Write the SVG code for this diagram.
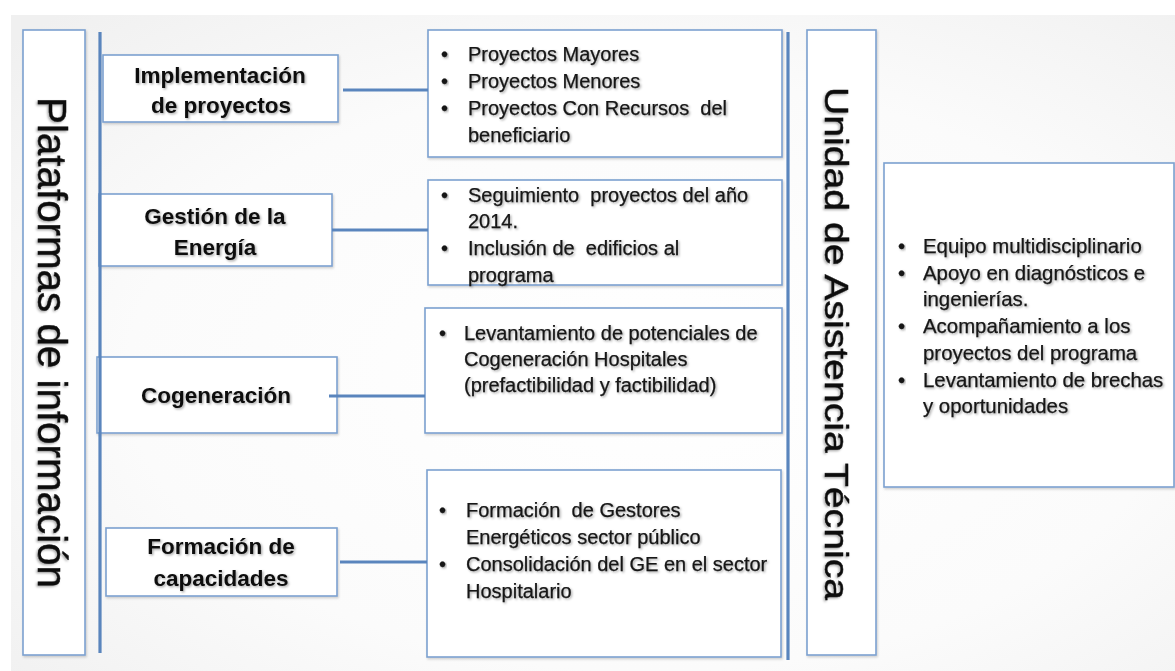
<svg xmlns="http://www.w3.org/2000/svg" width="1175" height="671" viewBox="0 0 1175 671">
<defs>
<radialGradient id="bg" cx="0.55" cy="0.55" r="0.75">
<stop offset="0" stop-color="#ffffff"/>
<stop offset="0.6" stop-color="#fbfbfb"/>
<stop offset="1" stop-color="#f0f0f0"/>
</radialGradient>
<filter id="ts" x="-5%" y="-20%" width="115%" height="160%">
<feDropShadow dx="1.3" dy="1.3" stdDeviation="0.9" flood-color="#000" flood-opacity="0.35"/>
</filter>
<filter id="bs" x="-5%" y="-5%" width="115%" height="115%">
<feDropShadow dx="1" dy="1.5" stdDeviation="1" flood-color="#000" flood-opacity="0.18"/>
</filter>
</defs>
<style>
.box{fill:#ffffff;stroke:#7ca1d0;stroke-width:1.6;filter:url(#bs)}
.line{stroke:#5a85bd;stroke-width:3.2;fill:none;stroke-linecap:butt}
.title{font-family:"Liberation Sans",Arial,sans-serif;fill:#111;stroke:#111;stroke-width:0.4;filter:url(#ts)}
.lbl{font-family:"Liberation Sans",Arial,sans-serif;font-weight:bold;font-size:22.5px;fill:#111;text-anchor:middle;filter:url(#ts)}
.txt{font-family:"Liberation Sans",Arial,sans-serif;font-size:20px;fill:#151515;stroke:#151515;stroke-width:0.25;filter:url(#ts)}
.txr{font-size:20.4px}
</style>
<rect x="0" y="0" width="1175" height="671" fill="#ffffff"/>
<rect x="11" y="15" width="1164" height="656" fill="url(#bg)"/>

<g id="plataformas">
<rect class="box" x="23" y="30" width="62" height="625"/>
<text class="title" font-size="40" transform="translate(38,97) rotate(90)" textLength="491" lengthAdjust="spacingAndGlyphs">Plataformas de información</text>
</g>

<g id="unidad">
<rect class="box" x="807" y="30" width="69" height="625"/>
<text class="title" font-size="34" transform="translate(825,87) rotate(90)" textLength="513" lengthAdjust="spacingAndGlyphs">Unidad de Asistencia Técnica</text>
</g>

<g id="implementacion">
<rect class="box" x="103" y="55" width="235" height="67"/>
<text class="lbl" x="220" y="83">Implementación</text>
<text class="lbl" x="221" y="113">de proyectos</text>
</g>

<g id="gestion">
<rect class="box" x="99" y="194" width="233" height="72"/>
<text class="lbl" x="215" y="224">Gestión de la</text>
<text class="lbl" x="215" y="255">Energía</text>
</g>

<g id="cogeneracion">
<rect class="box" x="97" y="357" width="240" height="76"/>
<text class="lbl" x="216" y="403">Cogeneración</text>
</g>

<g id="formacion">
<rect class="box" x="106" y="528" width="231" height="68"/>
<text class="lbl" x="221" y="554">Formación de</text>
<text class="lbl" x="221" y="586">capacidades</text>
</g>

<g id="proyectos-detalle">
<rect class="box" x="428" y="30" width="354" height="127"/>
<text class="txt" x="441" y="61">•</text><text class="txt" x="468" y="61">Proyectos Mayores</text>
<text class="txt" x="441" y="88">•</text><text class="txt" x="468" y="88">Proyectos Menores</text>
<text class="txt" x="441" y="115">•</text><text class="txt" x="468" y="115" xml:space="preserve">Proyectos Con Recursos  del</text>
<text class="txt" x="468" y="142">beneficiario</text>
</g>

<g id="gestion-detalle">
<rect class="box" x="428" y="180" width="354" height="105"/>
<text class="txt" x="441" y="202">•</text><text class="txt" x="468" y="202" xml:space="preserve">Seguimiento  proyectos del año</text>
<text class="txt" x="468" y="228">2014.</text>
<text class="txt" x="441" y="255">•</text><text class="txt" x="468" y="255" xml:space="preserve">Inclusión de  edificios al</text>
<text class="txt" x="468" y="282">programa</text>
</g>

<g id="cogeneracion-detalle">
<rect class="box" x="425" y="308" width="357" height="125"/>
<text class="txt" x="439" y="340">•</text><text class="txt" x="464" y="340">Levantamiento de potenciales de</text>
<text class="txt" x="464" y="366">Cogeneración Hospitales</text>
<text class="txt" x="464" y="392">(prefactibilidad y factibilidad)</text>
</g>

<g id="formacion-detalle">
<rect class="box" x="427" y="470" width="354" height="187"/>
<text class="txt" x="439" y="517">•</text><text class="txt" x="466" y="517" xml:space="preserve">Formación  de Gestores</text>
<text class="txt" x="466" y="544">Energéticos sector público</text>
<text class="txt" x="439" y="571">•</text><text class="txt" x="466" y="571">Consolidación del GE en el sector</text>
<text class="txt" x="466" y="598">Hospitalario</text>
</g>

<g id="asistencia-detalle">
<rect class="box" x="884" y="163" width="290" height="324"/>
<text class="txt txr" x="898" y="253">•</text><text class="txt txr" x="923" y="253">Equipo multidisciplinario</text>
<text class="txt txr" x="898" y="280">•</text><text class="txt txr" x="923" y="280">Apoyo en diagnósticos e</text>
<text class="txt txr" x="923" y="306">ingenierías.</text>
<text class="txt txr" x="898" y="333">•</text><text class="txt txr" x="923" y="333">Acompañamiento a los</text>
<text class="txt txr" x="923" y="360">proyectos del programa</text>
<text class="txt txr" x="898" y="387">•</text><text class="txt txr" x="923" y="387">Levantamiento de brechas</text>
<text class="txt txr" x="923" y="413">y oportunidades</text>
</g>

<g id="connectors">
<line class="line" x1="100" y1="32" x2="100" y2="653"/>
<line class="line" x1="788" y1="32" x2="788" y2="660"/>
<line class="line" x1="343" y1="90" x2="428" y2="90"/>
<line class="line" x1="332" y1="230" x2="428" y2="230"/>
<line class="line" x1="329" y1="396" x2="425" y2="396"/>
<line class="line" x1="340" y1="562" x2="427" y2="562"/>
</g>
</svg>
